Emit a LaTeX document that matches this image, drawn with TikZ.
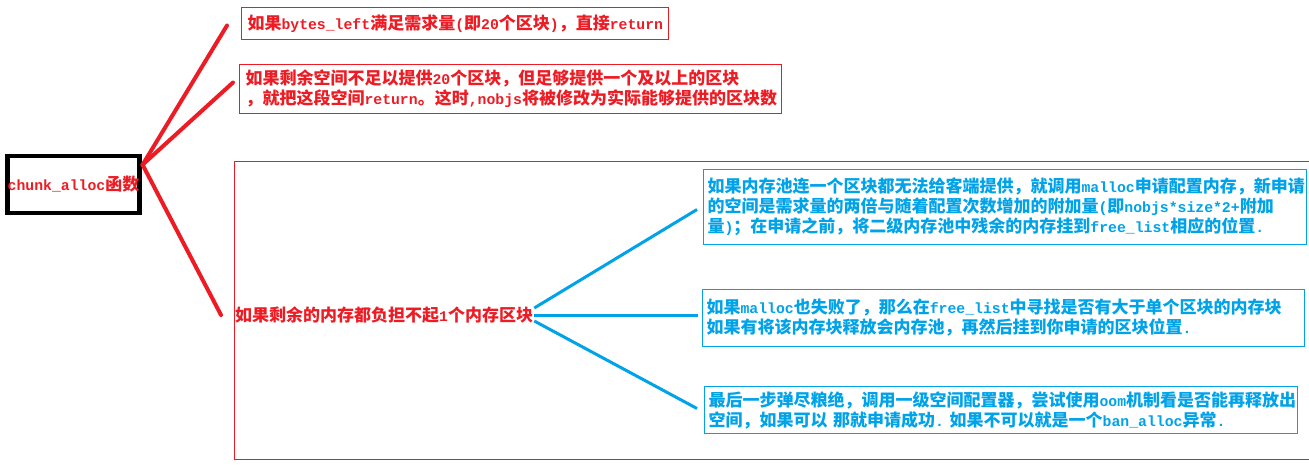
\documentclass[tikz,border=0pt]{standalone}
\usepackage{fontspec}
\setmainfont{Noto Sans CJK SC}
\setmonofont[Scale=0.87]{Liberation Mono}
\usetikzlibrary{calc}
\definecolor{paintred}{HTML}{ED1C24}
\definecolor{paintblue}{HTML}{00A2E8}
\newcommand{\lat}[1]{{\ttfamily\bfseries #1}}

\begin{document}
\begin{tikzpicture}[x=1pt, y=-1pt,
  txt/.style={font=\fontsize{17}{20}\selectfont\bfseries},
  redbox/.style={txt, draw=paintred, line width=1pt, text=paintred, anchor=north west, align=left, inner xsep=6pt, inner ysep=0pt},
  bluebox/.style={txt, draw=paintblue, line width=1pt, text=paintblue, anchor=north west, align=left, inner xsep=4pt, inner ysep=0pt},
  redlink/.style={paintred, line width=4pt, line cap=round},
  bluelink/.style={paintblue, line width=3pt}
]
\useasboundingbox (0,0) rectangle (1309,468);

\node[txt, draw=black, line width=4.5pt, text=paintred, minimum width=129pt, minimum height=57pt, inner sep=0pt] (chunk) at (73.5,184.5) {\lat{chunk\_alloc}函数};

\node[redbox, text width=415pt, minimum height=32pt] (need) at (241,7)
  {如果\lat{bytes\_left}满足需求量\lat{(}即\lat{20}个区块\lat{)}，直接\lat{return}};
\node[redbox, text width=530pt, minimum height=49pt] (part) at (239,64)
  {如果剩余空间不足以提供\lat{20}个区块，但足够提供一个及以上的区块\\
   ，就把这段空间\lat{return}。这时\lat{,nobjs}将被修改为实际能够提供的区块数};

\draw[paintred, line width=1pt] (1309,161) -| (234,459) -- (1309,459);
\node[txt, text=paintred, anchor=west, inner sep=0pt] (lead) at (235,315) {如果剩余的内存都负担不起\lat{1}个内存区块};

\node[bluebox, text width=595pt, minimum height=75pt] (alloc) at (703,169)
  {如果内存池连一个区块都无法给客端提供，就调用\lat{malloc}申请配置内存，新申请\\
   的空间是需求量的两倍与随着配置次数增加的附加量\lat{(}即\lat{nobjs*size*2+}附加\\
   量\lat{)}；在申请之前，将二级内存池中残余的内存挂到\lat{free\_list}相应的位置\lat{.}};
\node[bluebox, text width=594pt, minimum height=57pt] (scan) at (702,289)
  {如果\lat{malloc}也失败了，那么在\lat{free\_list}中寻找是否有大于单个区块的内存块\\
   如果有将该内存块释放会内存池，再然后挂到你申请的区块位置\lat{.}};
\node[bluebox, text width=585pt, minimum height=47pt] (oom) at (704,386)
  {最后一步弹尽粮绝，调用一级空间配置器，尝试使用\lat{oom}机制看是否能再释放出\\
   空间，如果可以\lat{\ }那就申请成功\lat{.\ }如果不可以就是一个\lat{ban\_alloc}异常\lat{.}};

\draw[redlink] ($(chunk.north east)+(1,11)$) -- ($(need.west)+(-14,2)$);
\draw[redlink] ($(chunk.north east)+(1,11)$) -- ($(part.west)+(-6,-6.5)$);
\draw[redlink] ($(chunk.north east)+(1,11)$) -- ($(lead.west)+(-14,0)$);

\draw[bluelink] ($(lead.east)+(1,-7)$) -- ($(alloc.west)+(-6,2.5)$);
\draw[bluelink, shorten >=4pt] ($(lead.east)+(1,0)$) -- (lead.east -| scan.west);
\draw[bluelink] ($(lead.east)+(1,6)$) -- ($(oom.west)+(-7,-1.5)$);
\end{tikzpicture}
\end{document}
